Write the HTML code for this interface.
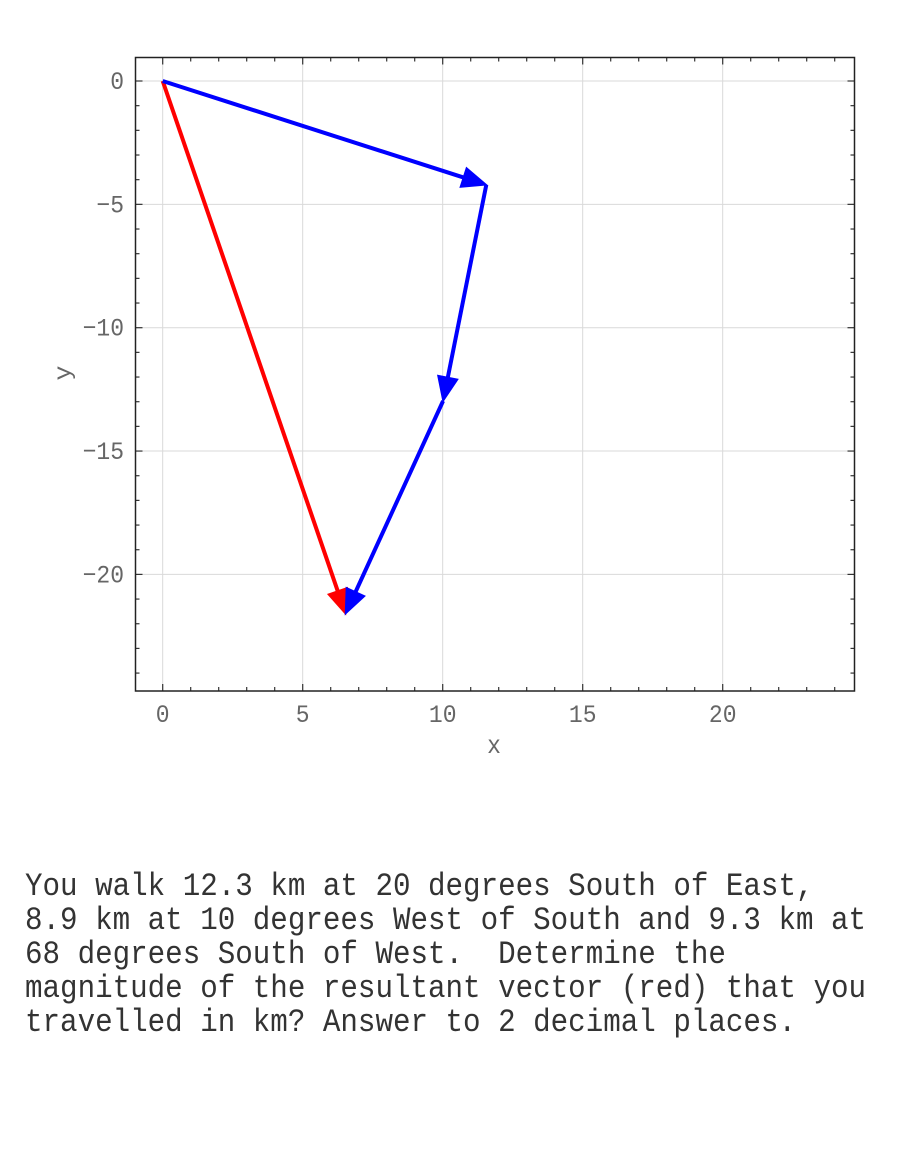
<!DOCTYPE html>
<html>
<head>
<meta charset="utf-8">
<style>
html,body{margin:0;padding:0;background:#fff;}
svg{display:block;}
.tl{font-family:"Liberation Mono",monospace;font-size:23px;fill:#666;}
.pt{font-family:"Liberation Mono",monospace;font-size:29.2px;fill:#333;}
</style>
</head>
<body>
<svg width="900" height="1149" viewBox="0 0 900 1149" xmlns="http://www.w3.org/2000/svg">
<rect x="0" y="0" width="900" height="1149" fill="#fff"/>
<!-- grid -->
<g stroke="#d9d9d9" stroke-width="1">
<line x1="162.7" y1="57.5" x2="162.7" y2="691"/>
<line x1="302.7" y1="57.5" x2="302.7" y2="691"/>
<line x1="442.7" y1="57.5" x2="442.7" y2="691"/>
<line x1="582.7" y1="57.5" x2="582.7" y2="691"/>
<line x1="722.7" y1="57.5" x2="722.7" y2="691"/>
<line x1="135.5" y1="81" x2="854.5" y2="81"/>
<line x1="135.5" y1="204.35" x2="854.5" y2="204.35"/>
<line x1="135.5" y1="327.7" x2="854.5" y2="327.7"/>
<line x1="135.5" y1="451.05" x2="854.5" y2="451.05"/>
<line x1="135.5" y1="574.4" x2="854.5" y2="574.4"/>
</g>
<!-- ticks -->
<g stroke="#333" stroke-width="1.2" id="ticks">
</g>
<script>
(function(){
var g=document.getElementById('ticks');var ns="http://www.w3.org/2000/svg";
function L(x1,y1,x2,y2){var l=document.createElementNS(ns,'line');l.setAttribute('x1',x1);l.setAttribute('y1',y1);l.setAttribute('x2',x2);l.setAttribute('y2',y2);g.appendChild(l);}
for(var i=-1;i<=24;i++){var x=162.7+28*i;var len=(i%5===0)?7:4;if(x<136||x>854)continue;L(x,691,x,691-len);L(x,57.5,x,57.5+len);}
for(var j=0;j<=24;j++){var y=81+24.67*j;var len2=(j%5===0)?7:4;if(y>690)continue;L(135.5,y,135.5+len2,y);L(854.5,y,854.5-len2,y);}
})();
</script>
<!-- frame -->
<rect x="135.5" y="57.5" width="719" height="633.5" fill="none" stroke="#222" stroke-width="1.5"/>
<!-- x tick labels -->
<g class="tl" text-anchor="middle">
<text transform="translate(162.7,722) scale(1,1.08)">0</text>
<text transform="translate(302.7,722) scale(1,1.08)">5</text>
<text transform="translate(442.7,722) scale(1,1.08)">10</text>
<text transform="translate(582.7,722) scale(1,1.08)">15</text>
<text transform="translate(722.7,722) scale(1,1.08)">20</text>
</g>
<!-- y tick labels -->
<g class="tl" text-anchor="end">
<text transform="translate(124,89) scale(1,1.08)">0</text>
<text transform="translate(124,212.3) scale(1,1.08)">−5</text>
<text transform="translate(124,335.7) scale(1,1.08)">−10</text>
<text transform="translate(124,459) scale(1,1.08)">−15</text>
<text transform="translate(124,582.4) scale(1,1.08)">−20</text>
</g>
<!-- axis labels -->
<text class="tl" text-anchor="middle" transform="translate(494,753) scale(1,1.08)">x</text>
<text class="tl" text-anchor="middle" transform="translate(70,373) rotate(-90) scale(1.08,1)">y</text>
<!-- red resultant -->
<line x1="162.7" y1="81" x2="338.5" y2="593.3" stroke="#ff0000" stroke-width="4"/>
<polygon points="345.51,613.75 347.18,587.8 328.26,594.3" fill="#ff0000" stroke="#ff0000" stroke-width="1.5" stroke-linejoin="miter"/>
<!-- blue vectors -->
<g stroke="#0000ff" stroke-width="4" fill="none">
<line x1="162.7" y1="81" x2="464.5" y2="177.8"/>
<line x1="486.3" y1="184.8" x2="447.4" y2="379.5"/>
<line x1="443.06" y1="401.02" x2="354.6" y2="594"/>
</g>
<g fill="#0000ff" stroke="#0000ff" stroke-width="1.5">
<polygon points="486.3,184.8 460.38,186.99 466.5,167.95"/>
<polygon points="443.06,401.02 457.58,379.45 437.96,375.53"/>
<polygon points="345.51,613.75 364.6,596.1 346.42,587.76"/>
</g>
<!-- problem text -->
<g class="pt">
<text xml:space="preserve" transform="translate(25,895) scale(1,1.12)">You walk 12.3 km at 20 degrees South of East,</text>
<text xml:space="preserve" transform="translate(25,929) scale(1,1.12)">8.9 km at 10 degrees West of South and 9.3 km at</text>
<text xml:space="preserve" transform="translate(25,963) scale(1,1.12)">68 degrees South of West.  Determine the</text>
<text xml:space="preserve" transform="translate(25,997) scale(1,1.12)">magnitude of the resultant vector (red) that you</text>
<text xml:space="preserve" transform="translate(25,1031) scale(1,1.12)">travelled in km? Answer to 2 decimal places.</text>
</g>
</svg>
</body>
</html>
